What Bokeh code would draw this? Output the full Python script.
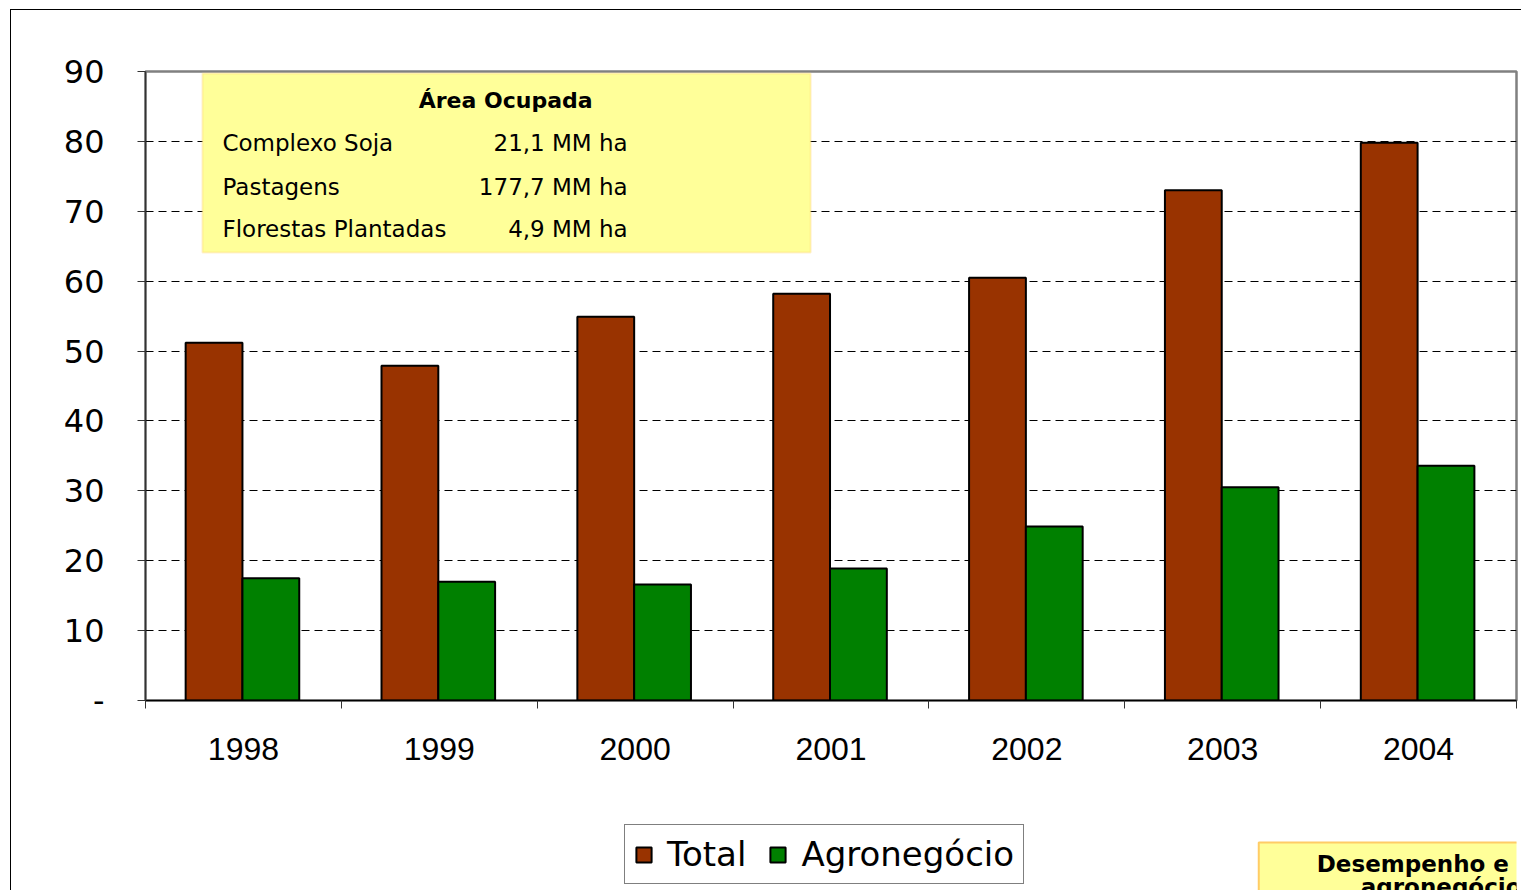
from bokeh.plotting import figure
from bokeh.layouts import column
from bokeh.models import (ColumnDataSource, Range1d, LinearAxis,
                          FixedTicker, BoxAnnotation, Label, Legend, LegendItem)
from bokeh.transform import dodge
from bokeh.embed import file_html
from bokeh.resources import INLINE

years = ["1998", "1999", "2000", "2001", "2002", "2003", "2004"]
total = [51.2, 47.9, 54.9, 58.2, 60.5, 73.0, 79.8]
agro = [17.5, 17.0, 16.6, 18.9, 24.9, 30.5, 33.6]
y_ticks = [0, 10, 20, 30, 40, 50, 60, 70, 80, 90]
series_names = ["Total", "Agronegócio"]
series_colors = ["#993300", "#008000"]
box_title = "Área Ocupada"
box_names = ["Complexo Soja", "Pastagens", "Florestas Plantadas"]
box_values = ["21,1 MM ha", "177,7 MM ha", "4,9 MM ha"]
corner_lines = ["Desempenho  e", "agronegócio"]

n = len(years)
centers = [i + 0.5 for i in range(n)]
src = ColumnDataSource(dict(x=centers, year=years, total=total, agro=agro))

# ---------------- main chart ----------------
p = figure(width=1510, height=780, x_range=Range1d(0, n),
           y_range=Range1d(0, 90), output_backend="svg", toolbar_location=None,
           x_axis_location=None, min_border_left=134, min_border_top=61,
           min_border_right=5, min_border_bottom=90)
p.background_fill_color = "white"
p.border_fill_color = "white"
p.outline_line_color = "#808080"
p.outline_line_width = 2.5
p.xgrid.grid_line_color = None
p.ygrid.grid_line_color = "black"
p.ygrid.grid_line_dash = "8 5"
p.ygrid.grid_line_width = 1
p.ygrid.ticker = FixedTicker(ticks=y_ticks)

ya = p.yaxis[0]
ya.ticker = FixedTicker(ticks=y_ticks)
ya.major_label_overrides = {0: "-"}
ya.major_label_text_font = "DejaVu Sans"
ya.major_label_text_font_size = "32px"
ya.major_label_text_color = "black"
ya.major_tick_out = 8
ya.major_tick_in = 0
ya.minor_tick_line_color = None
ya.axis_line_color = "#333333"
ya.axis_line_width = 1.5
ya.major_tick_line_color = "#333333"
ya.major_label_standoff = 33

xa = LinearAxis(ticker=FixedTicker(ticks=centers, minor_ticks=list(range(n + 1))),
                major_label_overrides={c: y for c, y in zip(centers, years)},
                axis_line_color="black", axis_line_width=1.5,
                major_tick_line_color=None, major_tick_out=0, major_tick_in=0,
                minor_tick_line_color="#333333", minor_tick_out=8, minor_tick_in=0,
                minor_tick_line_width=1,
                major_label_text_font="Liberation Sans",
                major_label_text_font_size="32px",
                major_label_text_color="black", major_label_standoff=29)
p.add_layout(xa, "below")

p.add_layout(BoxAnnotation(left=0.291, right=3.396, bottom=64.1, top=89.7,
                           fill_color="#FFFF99", fill_alpha=1, line_color="#FFCC66",
                           line_width=2, level="underlay"))

p.vbar(x=dodge("x", -0.15), top="total", width=0.29, source=src,
       fill_color=series_colors[0], line_color="black", line_width=2)
p.vbar(x=dodge("x", 0.14), top="agro", width=0.29, source=src,
       fill_color=series_colors[1], line_color="black", line_width=2)

p.add_layout(Label(x=1.839, y=85.8, text=box_title, text_align="center",
                   text_baseline="middle", text_font="DejaVu Sans", text_font_style="bold",
                   text_font_size="22px", text_color="black"))
row_y = [79.7, 73.5, 67.4]
for name, val, yy in zip(box_names, box_values, row_y):
    p.add_layout(Label(x=0.393, y=yy, text=name, text_align="left",
                       text_baseline="middle", text_font="DejaVu Sans",
                       text_font_size="23px", text_color="black"))
    p.add_layout(Label(x=2.462, y=yy, text=val, text_align="right",
                       text_baseline="middle", text_font="DejaVu Sans",
                       text_font_size="23px", text_color="black"))

# ---------------- bottom strip: legend + corner box ----------------
# frame of this strip is aligned with the main frame; the series renderers here are
# moved far outside the visible ranges, so they only feed the legend swatches
p2 = figure(width=1510, height=100, x_range=Range1d(0, n), y_range=Range1d(200, 300),
            output_backend="svg", toolbar_location=None,
            x_axis_location=None, y_axis_location=None,
            min_border=0, min_border_left=0, min_border_right=0,
            min_border_top=0, min_border_bottom=0)
p2.outline_line_color = None
p2.grid.grid_line_color = None
p2.background_fill_color = "white"
p2.border_fill_color = "white"

lr1 = p2.vbar(x=dodge("x", 100), top="total", width=0.29, source=src,
              fill_color=series_colors[0], line_color="black", line_width=2)
lr2 = p2.vbar(x=dodge("x", 100), top="agro", width=0.29, source=src,
              fill_color=series_colors[1], line_color="black", line_width=2)

legend = Legend(items=[LegendItem(label=series_names[0], renderers=[lr1]),
                       LegendItem(label=series_names[1], renderers=[lr2])],
                orientation="horizontal", location=(479, 6),
                label_text_font="DejaVu Sans", label_text_font_size="34px",
                label_text_color="black", glyph_width=19, glyph_height=19,
                label_standoff=14, spacing=22, padding=9, margin=0,
                border_line_color="black", border_line_width=1,
                background_fill_color="white")
p2.add_layout(legend, "center")

p2.add_layout(Label(x=5.684, y=248, text=corner_lines[0],
                    text_align="left", text_baseline="top", text_font="DejaVu Sans",
                    text_font_style="bold", text_font_size="23px", text_color="black",
                    background_fill_color="#FFFF99", border_line_color="#FFCC66",
                    border_line_width=2,
                    padding=dict(left=58, right=300, top=8, bottom=60)))
p2.add_layout(Label(x=6.205, y=217, text=corner_lines[1],
                    text_align="left", text_baseline="top", text_font="DejaVu Sans",
                    text_font_style="bold", text_font_size="23px", text_color="black"))

layout = column(p, p2, spacing=0)
layout.styles = {"border-left": "1px solid black", "border-top": "1px solid black",
                 "margin-left": "10px", "margin-top": "9px"}

open("out.html", "w").write(file_html(layout, INLINE))
